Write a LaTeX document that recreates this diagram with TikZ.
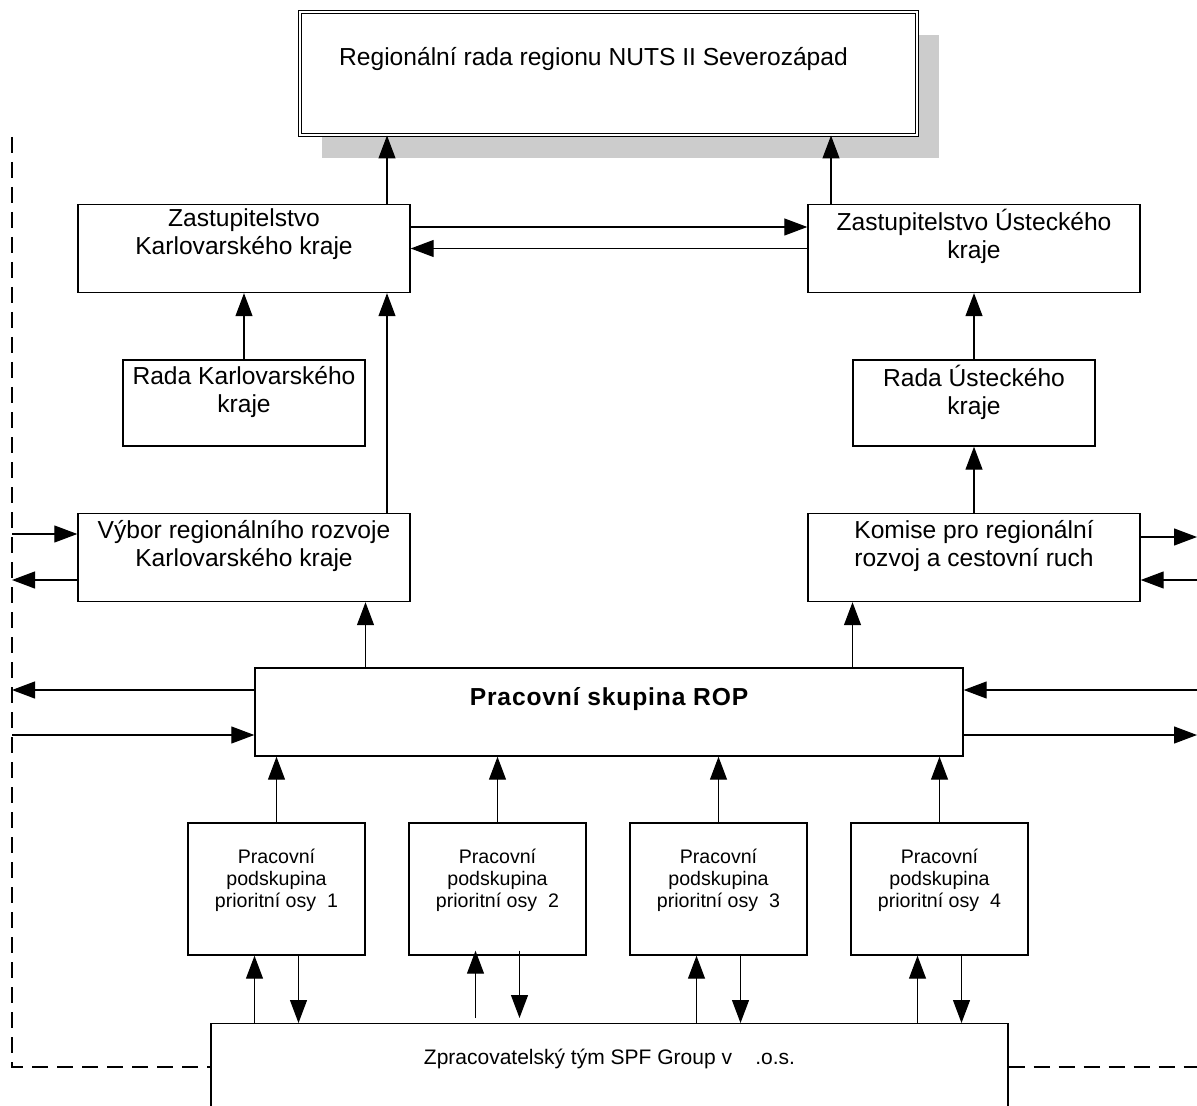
\documentclass[tikz,border=0pt]{standalone}
\usepackage{fontspec}
\setmainfont{Liberation Sans}
\usetikzlibrary{positioning,arrows.meta,shadows}

\tikzset{
  box/.style={draw, line width=0.7pt, fill=white, minimum width=166pt, minimum height=44pt, inner sep=0pt},
  rada/.style={box, minimum width=121pt, minimum height=43pt},
  wgroup/.style={box, minimum width=354pt, minimum height=44pt},
  subbox/.style={box, minimum width=88.5pt, minimum height=66pt},
  txt/.style={align=center, inner sep=0pt, font=\fontsize{12.3pt}{14pt}\selectfont},
  subtxt/.style={txt, font=\fontsize{9.8pt}{11pt}\selectfont},
  arr/.style={-{Triangle[length=11.5pt,width=8.5pt]}, line width=0.6pt},
  fence/.style={line width=1.3pt, dash pattern=on 8pt off 4.5pt},
}

\begin{document}
\begin{tikzpicture}[x=0.5pt, y=-0.5pt, node distance=77.25pt, on grid]
\useasboundingbox (0,0) rectangle (1197,1106);

% pracovni skupina
\node[wgroup] (rop) at (609,712) {};
\node[txt, font=\bfseries\fontsize{12.3pt}{14pt}\selectfont\addfontfeature{LetterSpace=3.5}] (rop-t) [above=6.5pt of rop] {Pracovní skupina ROP};

% Karlovarsky kraj
\node[box] (vk) [above left=77.25pt and 182.5pt of rop] {};
\node[rada] (rk) [above=of vk] {};
\node[box] (zk) [above=of rk] {};
% Ustecky kraj
\node[box] (km) [above right=77.25pt and 182.5pt of rop] {};
\node[rada] (ru) [above=of km] {};
\node[box] (zu) [above=of ru] {};

% regionalni rada
\node[box, minimum width=308.5pt, minimum height=61.5pt, line width=0.5pt, double, double distance=1pt,
      drop shadow={shadow xshift=11pt, shadow yshift=-11.5pt, fill=black!20, opacity=1}]
      (reg) [above right=87.5pt and 182.25pt of zk] {};

\node[txt] (reg-t) [above left=7pt and 7.5pt of reg] {Regionální rada regionu NUTS II Severozápad};
\node[txt] (zk-t) [above=7pt of zk] {Zastupitelstvo\\Karlovarského kraje};
\node[txt] (zu-t) [above=6.25pt of zu] {Zastupitelstvo Ústeckého\\kraje};
\node[txt] (rk-t) [above=5.5pt of rk] {Rada Karlovarského\\kraje};
\node[txt] (ru-t) [above=5.5pt of ru] {Rada Ústeckého\\kraje};
\node[txt] (vk-t) [above=6pt of vk] {Výbor regionálního rozvoje\\Karlovarského kraje};
\node[txt] (km-t) [above=6pt of km] {Komise pro regionální\\rozvoj a cestovní ruch};

% podskupiny
\node[subbox] (p1) [below left=88.5pt and 166.25pt of rop] {};
\foreach \i [count=\j] in {2,3,4}
  \node[subbox] (p\i) [right=110.5pt of p\j] {};
\foreach \i in {1,...,4}
  \node[subtxt] (p\i-t) [above=4.5pt of p\i] {Pracovní\\podskupina\\prioritní osy~~\i};

% zpracovatel
\node[box, minimum width=398.5pt, minimum height=60pt, anchor=north] (zpr) at (609.5,1023) {};
\node[subtxt, font=\fontsize{10.5pt}{12pt}\selectfont] (zpr-t) [below=13pt of zpr.north] {Zpracovatelský tým SPF Group v~~~~.o.s.};

% carkovany ramec
\coordinate (ftop) at (12,137);
\coordinate (fcorner) at (12,1067);
\coordinate (fright) at (1197,1067);
\draw[fence] (ftop) -- (fcorner) -- (fcorner -| zpr.west);
\draw[fence] (fright -| zpr.east) -- (fright);

% vazby nahoru
\draw[arr] ([xshift=71.5pt]zk.north) -- ([xshift=71.5pt]zk.north |- reg.south);
\draw[arr] ([xshift=-71.5pt]zu.north) -- ([xshift=-71.5pt]zu.north |- reg.south);
\draw[arr] ([yshift=10.75pt]zk.east) -- ([yshift=10.75pt]zk.east -| zu.west);
\draw[arr] (zu.west) -- (zu.west -| zk.east);
\draw[arr] (rk) -- (zk);
\draw[arr] (ru) -- (zu);
\draw[arr] (km) -- (ru);
\draw[arr] ([xshift=71.5pt]vk.north) -- ([xshift=71.5pt]vk.north |- zk.south);
\draw[arr] ([xshift=-121.75pt]rop.north) -- ([xshift=-121.75pt]rop.north |- vk.south);
\draw[arr] ([xshift=121.75pt]rop.north) -- ([xshift=121.75pt]rop.north |- km.south);

\foreach \i/\s in {1/0pt,2/2.5pt,3/0pt,4/0pt} {
  \draw[arr] (p\i) -- (p\i |- rop.south);
  \draw[arr] ([xshift=-11pt,yshift=\s]p\i.south |- zpr.north) -- ([xshift=-11pt,yshift=\s]p\i.south);
  \draw[arr] ([xshift=11pt,yshift=\s]p\i.south) -- ([xshift=11pt,yshift=\s]p\i.south |- zpr.north);
}

% vazby do stran
\coordinate (l1) at (12,534);
\coordinate (l2) at (12,580);
\coordinate (l3) at (12,690);
\coordinate (l4) at (12,735);
\draw[arr] (l1) -- (l1 -| vk.west);
\draw[arr] (l2 -| vk.west) -- (l2);
\draw[arr] (l3 -| rop.west) -- (l3);
\draw[arr] (l4) -- (l4 -| rop.west);
\coordinate (r1) at (1197,537);
\coordinate (r2) at (1197,580);
\coordinate (r3) at (1197,690);
\coordinate (r4) at (1197,735);
\draw[arr] (r1 -| km.east) -- (r1);
\draw[arr] (r2) -- (r2 -| km.east);
\draw[arr] (r3) -- (r3 -| rop.east);
\draw[arr] (r4 -| rop.east) -- (r4);
\end{tikzpicture}
\end{document}
